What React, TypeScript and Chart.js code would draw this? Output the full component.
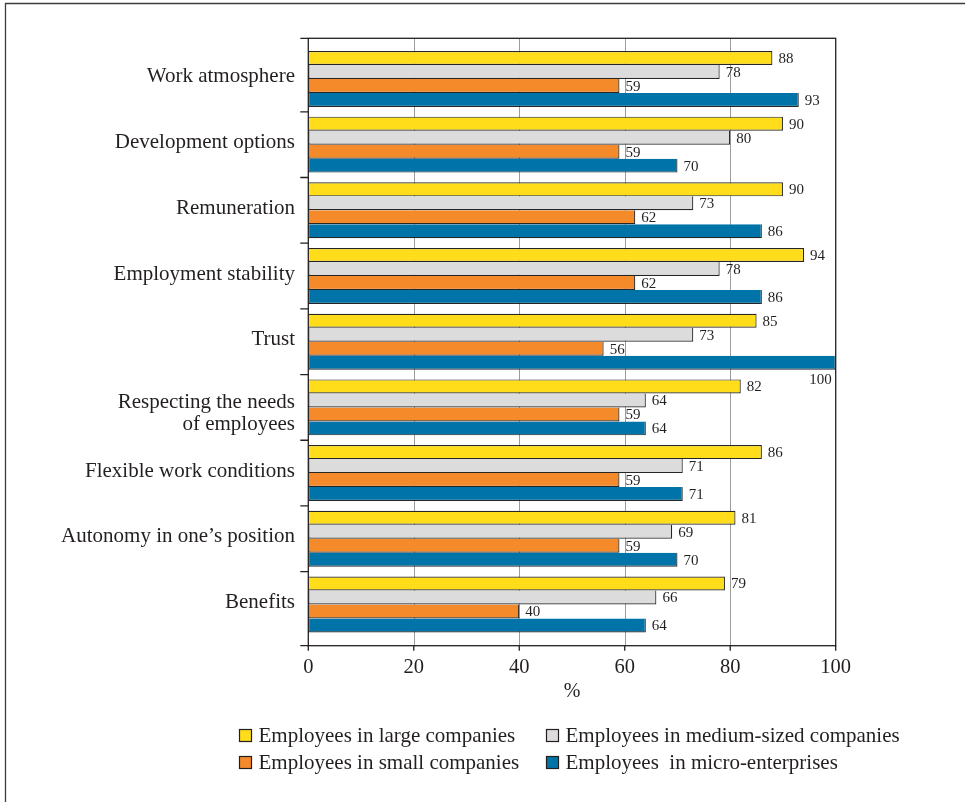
import React, { useEffect, useRef } from 'react';
import { Chart, registerables } from 'chart.js';

Chart.register(...registerables);

const categories = [
  'Work atmosphere',
  'Development options',
  'Remuneration',
  'Employment stability',
  'Trust',
  'Respecting the needs of employees',
  'Flexible work conditions',
  'Autonomy in one\u2019s position',
  'Benefits',
];
// how the category names are broken onto lines on the axis
const categoryLines: (string | string[])[] = [
  'Work atmosphere',
  'Development options',
  'Remuneration',
  'Employment stability',
  'Trust',
  ['Respecting the needs', 'of employees'],
  'Flexible work conditions',
  'Autonomy in one\u2019s position',
  'Benefits',
];
const seriesNames = [
  'Employees in large companies',
  'Employees in medium-sized companies',
  'Employees in small companies',
  'Employees  in micro-enterprises',
];
const largeValues = [88, 90, 90, 94, 85, 82, 86, 81, 79];
const mediumValues = [78, 80, 73, 78, 73, 64, 71, 69, 66];
const smallValues = [59, 59, 62, 62, 56, 59, 59, 59, 40];
const microValues = [93, 70, 86, 86, 100, 64, 71, 70, 64];
const xTickValues = [0, 20, 40, 60, 80, 100];
const axisTitle = '%';

const FONT = "'Liberation Serif', 'Times New Roman', serif";
const INK = '#231f20';
const seriesColors = ['#FFDD1A', '#DCDCDD', '#F48A2A', '#0074A8'];
const PAD_TOP = 7.8;
const PAD_BOTTOM = 8.4;

const framePlugin = {
  id: 'frameDecor',
  beforeDraw(chart: any) {
    const ctx = chart.ctx;
    ctx.save();
    ctx.strokeStyle = '#3c3c3c';
    ctx.lineWidth = 1.3;
    ctx.beginPath();
    ctx.moveTo(5.5, chart.height + 2);
    ctx.lineTo(5.5, 3.5);
    ctx.lineTo(chart.width + 2, 3.5);
    ctx.stroke();
    ctx.restore();

    // nudge the category labels vertically the way the reference sets them
    const y = chart.scales.y;
    const items = y.getLabelItems();
    items.forEach((it: any) => {
      if (it.__nudged) return;
      const multi = Array.isArray(it.label) && it.label.length > 1;
      it.options.translation[1] += multi ? 6 : -2;
      it.__nudged = true;
    });
  },
  beforeDatasetsDraw(chart: any) {
    const { ctx, chartArea: ca } = chart;
    const x = chart.scales.x;
    const top = ca.top - PAD_TOP;
    const bottom = ca.bottom + PAD_BOTTOM;
    ctx.save();
    ctx.strokeStyle = '#9c9c9c';
    ctx.lineWidth = 1;
    x.ticks.forEach((t: any) => {
      if (t.value <= x.min || t.value >= x.max) return;
      const px = Math.round(x.getPixelForValue(t.value)) + 0.5;
      ctx.beginPath();
      ctx.moveTo(px, top);
      ctx.lineTo(px, bottom);
      ctx.stroke();
    });
    ctx.restore();
  },
  afterDatasetsDraw(chart: any) {
    const { ctx, chartArea: ca } = chart;
    const x = chart.scales.x;
    const y = chart.scales.y;
    const top = ca.top - PAD_TOP;
    const bottom = ca.bottom + PAD_BOTTOM;
    const left = x.getPixelForValue(x.min);
    const right = x.getPixelForValue(x.max);

    // value labels
    ctx.save();
    ctx.font = `15px ${FONT}`;
    ctx.fillStyle = INK;
    ctx.textBaseline = 'middle';
    chart.data.datasets.forEach((ds: any, i: number) => {
      const meta = chart.getDatasetMeta(i);
      meta.data.forEach((el: any, j: number) => {
        const v = ds.data[j];
        const p = el.getProps(['x', 'y', 'height'], true);
        if (v >= x.max) {
          ctx.textAlign = 'right';
          ctx.fillText(String(v), p.x - 4, p.y + p.height / 2 + 10.5);
        } else {
          ctx.textAlign = 'left';
          ctx.fillText(String(v), p.x + 6, p.y + 1);
        }
      });
    });
    ctx.restore();

    // plot frame and ticks
    ctx.save();
    ctx.strokeStyle = INK;
    ctx.lineWidth = 1.3;
    ctx.strokeRect(left, top, right - left, bottom - top);
    ctx.beginPath();
    const n = y.ticks.length;
    const ys = [top];
    for (let i = 0; i < n - 1; i++) {
      ys.push((y.getPixelForValue(i) + y.getPixelForValue(i + 1)) / 2);
    }
    ys.push(bottom);
    ys.forEach((py) => {
      ctx.moveTo(left - 8, py);
      ctx.lineTo(left, py);
    });
    x.ticks.forEach((t: any) => {
      const px = x.getPixelForValue(t.value);
      ctx.moveTo(px, bottom);
      ctx.lineTo(px, bottom + 5);
    });
    ctx.stroke();
    ctx.restore();
  },
  afterDraw(chart: any) {
    const ctx = chart.ctx;
    const cols = [239, 546];
    const rows = [735.5, 762.5];
    ctx.save();
    ctx.font = `21px ${FONT}`;
    ctx.textBaseline = 'middle';
    ctx.textAlign = 'left';
    chart.data.datasets.forEach((ds: any, i: number) => {
      const bx = cols[i % 2];
      const cy = rows[Math.floor(i / 2)];
      ctx.fillStyle = ds.backgroundColor;
      ctx.fillRect(bx, cy - 6.5, 13, 13);
      ctx.strokeStyle = INK;
      ctx.lineWidth = 1.2;
      ctx.strokeRect(bx + 0.5, cy - 6, 12, 12);
      ctx.fillStyle = INK;
      ctx.fillText(ds.label, bx + 19.5, cy + 0.5);
    });
    ctx.restore();
  },
};

export default function App() {
  const canvasRef = useRef<HTMLCanvasElement | null>(null);

  useEffect(() => {
    const canvas = canvasRef.current;
    if (!canvas) return;
    const values = [largeValues, mediumValues, smallValues, microValues];
    const chart = new Chart(canvas, {
      type: 'bar',
      data: {
        labels: categoryLines as any,
        datasets: seriesNames.map((name, i) => ({
          label: name,
          data: values[i],
          backgroundColor: seriesColors[i],
          borderColor: '#262626',
          borderWidth: 1.2,
          borderSkipped: i === 0 ? 'start' : 'top',
          categoryPercentage: 0.852,
          barPercentage: 1,
        })),
      },
      options: {
        responsive: false,
        animation: false,
        indexAxis: 'y',
        layout: { padding: { left: 0, right: 129.3, top: 46.1, bottom: 98 } },
        plugins: {
          legend: { display: false },
          tooltip: { enabled: false },
          title: { display: false },
        },
        scales: {
          x: {
            type: 'linear',
            position: 'bottom',
            min: xTickValues[0],
            max: xTickValues[xTickValues.length - 1],
            afterBuildTicks: (s: any) => {
              s.ticks = xTickValues.map((v) => ({ value: v }));
            },
            afterFit: (s: any) => {
              s.height = 66.7;
            },
            grid: { display: false, drawTicks: false },
            border: { display: false },
            ticks: {
              font: { family: FONT, size: 20.5 },
              color: INK,
              padding: 18,
              maxRotation: 0,
              autoSkip: false,
            },
            title: {
              display: true,
              text: axisTitle,
              font: { family: FONT, size: 20 },
              color: INK,
              padding: 0,
            },
          },
          y: {
            type: 'category',
            offset: true,
            afterFit: (s: any) => {
              s.width = 308.3;
            },
            grid: { display: false, drawTicks: false },
            border: { display: false },
            ticks: {
              font: { family: FONT, size: 21, lineHeight: 1.05 },
              color: INK,
              padding: 13.3,
              autoSkip: false,
            },
          },
        },
      },
      plugins: [framePlugin],
    } as any);
    return () => chart.destroy();
  }, []);

  return (
    <div
      style={{ position: 'absolute', left: 0, top: 0, width: 965, height: 802, background: '#fff' }}
      aria-label={categories.join(', ')}
    >
      <canvas ref={canvasRef} width={965} height={802} style={{ display: 'block' }} />
    </div>
  );
}
